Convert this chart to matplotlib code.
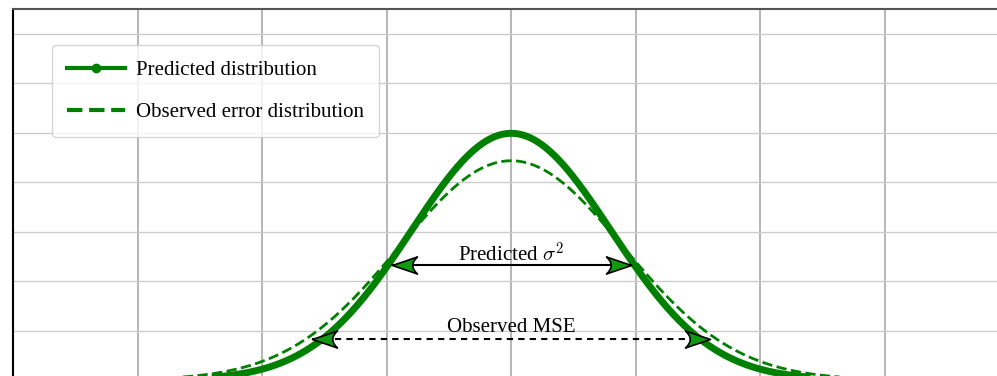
import numpy as np
import matplotlib.pyplot as plt
from matplotlib.path import Path
from matplotlib.lines import Line2D

plt.rcParams['font.family'] = 'Liberation Serif'
plt.rcParams['mathtext.fontset'] = 'cm'

# distribution parameters
mu = 0.0
sigma_pred = 0.8
sigma_obs = 0.9

# arrow annotations (x tips, height) and their labels
pred_arrow_x = [-0.96, 0.96]
pred_arrow_y = 0.232
mse_arrow_x = [-1.6, 1.6]
mse_arrow_y = 0.083
pred_label = ('Predicted $\\sigma^2$', 0.0, 0.228)
mse_label = ('Observed MSE', 0.0, 0.087)


def pdf(x, m, s):
    return np.exp(-(x - m) ** 2 / (2 * s ** 2)) / (s * np.sqrt(2 * np.pi))


x = np.linspace(-4, 4, 1200)

fig = plt.figure(figsize=(9.97, 3.76), dpi=100)
ax = fig.add_axes([13 / 997, -4 / 376, 996.4 / 997, 371 / 376])

ax.plot(x, pdf(x, mu, sigma_pred), color='green', lw=5, zorder=3)
ax.plot(x, pdf(x, mu, sigma_obs), color='green', lw=2, ls='--', zorder=4)

# arrowheads with a concave back, tip at the origin, pointing right
head_r = Path([(0, 0), (-1, 0.34), (-0.62, 0), (-1, -0.34), (0, 0), (0, 0)],
              [Path.MOVETO, Path.LINETO, Path.CURVE3, Path.CURVE3,
               Path.LINETO, Path.CLOSEPOLY])
head_l = Path(-head_r.vertices, head_r.codes)
head_fc = '#109a10'


def double_arrow(xs, y, ls):
    ax.plot(xs, [y, y], color='black', lw=1.5, ls=ls, zorder=5)
    ax.plot([xs[0]], [y], marker=head_l, ms=36, mfc=head_fc, mec='black',
            mew=1.2, ls='none', zorder=6)
    ax.plot([xs[1]], [y], marker=head_r, ms=36, mfc=head_fc, mec='black',
            mew=1.2, ls='none', zorder=6)


double_arrow(pred_arrow_x, pred_arrow_y, '-')
double_arrow(mse_arrow_x, mse_arrow_y, (0, (3, 2.5)))

for txt, tx, ty in [pred_label, mse_label]:
    ax.text(tx, ty, txt, ha='center', va='bottom', fontsize=15, zorder=7)

ax.set_xlim(-4, 4)
ax.set_ylim(0, 0.75)
ax.set_xticks(np.arange(-4, 5, 1))
ax.set_yticks(np.arange(0, 0.75, 0.1))
ax.tick_params(length=0, labelbottom=False, labelleft=False)
ax.grid(axis='x', color='#b0b0b0', lw=1.3)
ax.grid(axis='y', color='#cccccc', lw=1.0)
ax.set_axisbelow(True)
ax.spines['left'].set_color('black')
ax.spines['left'].set_linewidth(1.5)
ax.spines['top'].set_color('#555555')
ax.spines['top'].set_linewidth(1.5)

handles = [
    Line2D([], [], color='green', lw=3, marker='o', ms=6),
    Line2D([], [], color='green', lw=3, ls='--'),
]
labels = ['Predicted distribution', 'Observed error distribution']
ax.legend(handles, labels, loc='upper left', bbox_to_anchor=(0.039, 0.903),
          borderaxespad=0, fontsize=15, handlelength=2.75, handletextpad=0.55,
          labelspacing=1.08, borderpad=0.74)

fig.savefig('out.png', dpi=100)
